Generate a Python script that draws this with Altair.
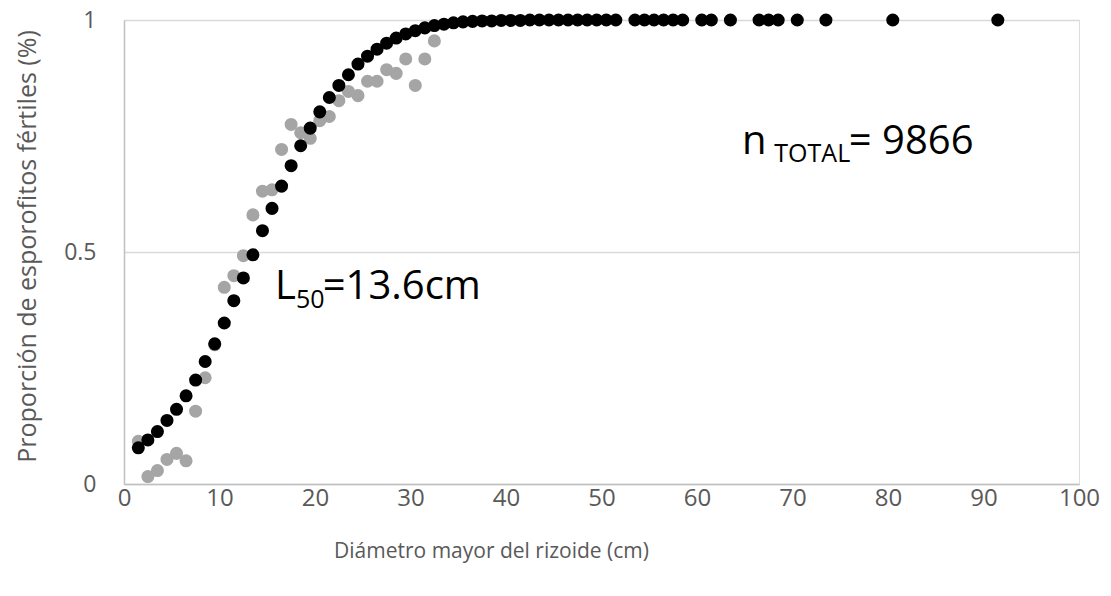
import altair as alt
import pandas as pd

# Fitted (logistic) proportion, black points
fit_x = [1.5, 2.5, 3.5, 4.5, 5.5, 6.5, 7.5, 8.5, 9.5, 10.5, 11.5, 12.5, 13.5, 14.5, 15.5,
         16.5, 17.5, 18.5, 19.5, 20.5, 21.5, 22.5, 23.5, 24.5, 25.5, 26.5, 27.5, 28.5, 29.5,
         30.5, 31.5, 32.5, 33.5, 34.5, 35.5, 36.5, 37.5, 38.5, 39.5, 40.5, 41.5, 42.5, 43.5,
         44.5, 45.5, 46.5, 47.5, 48.5, 49.5, 50.5, 51.5,
         53.5, 54.5, 55.5, 56.5, 57.5, 58.5, 60.5, 61.5, 63.5, 66.5, 67.5, 68.5, 70.5, 73.5,
         80.5, 91.5]
fit_y = [0.078, 0.095, 0.113, 0.137, 0.161, 0.190, 0.224, 0.264, 0.302, 0.347, 0.395, 0.444,
         0.494, 0.546, 0.594, 0.642, 0.686, 0.729, 0.767, 0.802, 0.833, 0.859, 0.882, 0.905,
         0.922, 0.937, 0.950, 0.961, 0.970, 0.977, 0.983, 0.988, 0.991, 0.994, 0.996, 0.997,
         0.998, 0.998, 0.999, 0.999, 0.999, 1.0, 1.0, 1.0, 1.0, 1.0, 1.0, 1.0, 1.0, 1.0, 1.0,
         1.0, 1.0, 1.0, 1.0, 1.0, 1.0, 1.0, 1.0, 1.0, 1.0, 1.0, 1.0, 1.0, 1.0, 1.0, 1.0]

# Observed proportion, grey points
obs_x = [1.5, 2.5, 3.5, 4.5, 5.5, 6.5, 7.5, 8.5, 9.5, 10.5, 11.5, 12.5, 13.5, 14.5, 15.5,
         16.5, 17.5, 18.5, 19.5, 20.5, 21.5, 22.5, 23.5, 24.5, 25.5, 26.5, 27.5, 28.5, 29.5,
         30.5, 31.5, 32.5]
obs_y = [0.092, 0.016, 0.029, 0.053, 0.066, 0.050, 0.157, 0.229, 0.300, 0.424, 0.449, 0.492,
         0.580, 0.631, 0.634, 0.721, 0.775, 0.757, 0.745, 0.783, 0.792, 0.826, 0.846, 0.837,
         0.868, 0.868, 0.893, 0.885, 0.916, 0.859, 0.916, 0.955]

x_ticks = [0, 10, 20, 30, 40, 50, 60, 70, 80, 90, 100]
y_ticks = [0, 0.5, 1]

# annotation pieces: text, x, y, size
ann_text = ["L", "50", "=13.6cm", "n", "TOTAL", "= 9866"]
ann_x = [15.8, 18.0, 20.8, 64.7, 68.1, 75.9]
ann_y = [0.425, 0.397, 0.425, 0.736, 0.712, 0.736]
ann_size = [40, 25, 40, 40, 25, 40]

obs = pd.DataFrame({"x": obs_x, "y": obs_y})
fit = pd.DataFrame({"x": fit_x, "y": fit_y})
ann = pd.DataFrame({"t": ann_text, "x": ann_x, "y": ann_y, "s": ann_size})

FONT = "Open Sans"

xscale = alt.Scale(domain=[0, 100], nice=False, zero=True)
yscale = alt.Scale(domain=[0, 1], nice=False)

xaxis = alt.Axis(values=x_ticks, grid=False, ticks=False, domain=True, domainColor="#BFBFBF",
                 domainWidth=1.5, labelPadding=2, labelFontSize=24, labelFont=FONT,
                 labelColor="#595959", title="Diámetro mayor del rizoide (cm)",
                 titleFont=FONT, titleFontSize=21, titleFontWeight="normal",
                 titleColor="#595959", titleX=367, titleY=67, titleBaseline="middle",
                 titleAnchor="middle", labelFlush=False)
yaxis = alt.Axis(values=y_ticks, format="~g", grid=True, gridColor="#D9D9D9", gridWidth=1.5,
                 ticks=False, domain=True, domainColor="#BFBFBF", domainWidth=1.5,
                 labelPadding=28, labelFontSize=23, labelFont=FONT, labelColor="#595959",
                 title="Proporción de esporofitos fértiles (%)", titleFont=FONT,
                 titleFontSize=25, titleFontWeight="normal", titleColor="#595959",
                 titleX=-97, titleY=226, titleAngle=-90, titleBaseline="middle",
                 titleAlign="center")

obs_layer = alt.Chart(obs).mark_circle(size=170, opacity=1, color="#A5A5A5").encode(
    x=alt.X("x:Q", scale=xscale, axis=xaxis),
    y=alt.Y("y:Q", scale=yscale, axis=yaxis),
)
fit_layer = alt.Chart(fit).mark_circle(size=170, opacity=1, color="#000000").encode(
    x=alt.X("x:Q", scale=xscale),
    y=alt.Y("y:Q", scale=yscale),
)
ann_layer = alt.Chart(ann).mark_text(align="left", baseline="middle", font=FONT,
                                     color="#000000").encode(
    x=alt.X("x:Q", scale=xscale),
    y=alt.Y("y:Q", scale=yscale),
    text="t:N",
    size=alt.Size("s:Q", scale=None, legend=None),
)

chart = alt.layer(obs_layer, fit_layer, ann_layer).properties(
    width=955, height=464,
    autosize=alt.AutoSizeParams(type="none"),
    padding={"left": 116, "top": 12, "right": 24, "bottom": 96},
).configure_view(stroke=None).configure(background="white")

chart.save("out.html", embed_options={"renderer": "svg", "actions": False})
